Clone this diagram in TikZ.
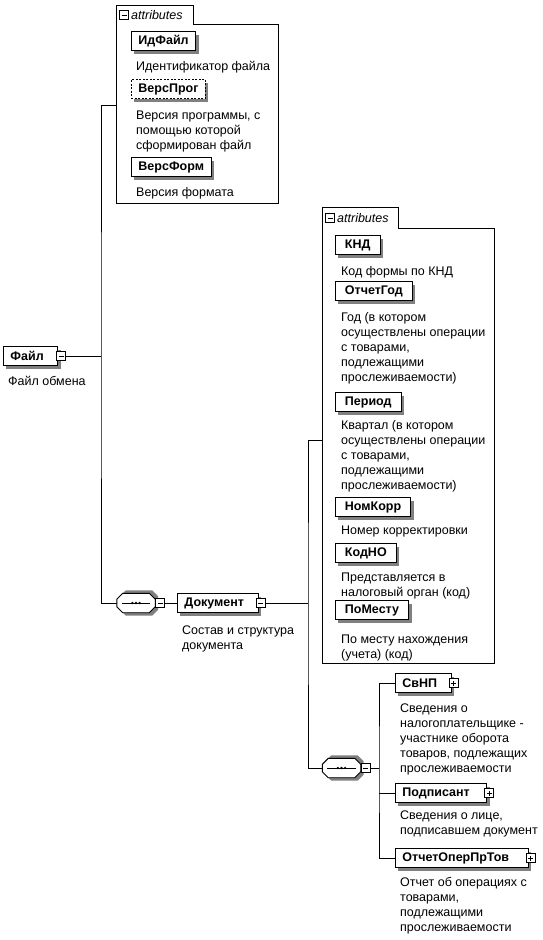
\documentclass[tikz,border=0pt]{standalone}
\usepackage{fontspec}
\setmainfont{Liberation Sans}
\begin{document}
\newcommand\seqshape[1]{%
  \fill[black!50] ([shift={(9pt,3pt)}]#1.north west) -- ([shift={(-3pt,3pt)}]#1.north east) -- ([shift={(3pt,-3pt)}]#1.north east) -- ([shift={(3pt,3pt)}]#1.south east) -- ([shift={(-3pt,-3pt)}]#1.south east) -- ([shift={(9pt,-3pt)}]#1.south west) -- ([shift={(3pt,3pt)}]#1.south west) -- ([shift={(3pt,-3pt)}]#1.north west) -- cycle;
  \draw[line width=0.9pt, fill=white] ([xshift=6pt]#1.north west) -- ([xshift=-6pt]#1.north east) -- ([yshift=-6pt]#1.north east) -- ([yshift=6pt]#1.south east) -- ([xshift=-6pt]#1.south east) -- ([xshift=6pt]#1.south west) -- ([yshift=6pt]#1.south west) -- ([yshift=-6pt]#1.north west) -- cycle;
  \draw[line width=0.8pt] ([xshift=5pt]#1.west) -- ([xshift=-5pt]#1.east);
  \fill (#1.center) circle (1.3pt) ([xshift=-3.6pt]#1.center) circle (1.3pt) ([xshift=3.6pt]#1.center) circle (1.3pt);}
\begin{tikzpicture}[x=1pt,y=-1pt,
  every node/.style={inner sep=0pt},
  conn/.style={line width=0.8pt},
  dropsh/.style={preaction={fill=black!50, transform canvas={xshift=3pt, yshift=-3pt}}},
  elem/.style={draw, fill=white, line width=0.9pt, minimum height=19pt, inner xsep=7pt, anchor=west, font=\fontsize{12.5}{14}\selectfont\bfseries, dropsh},
  wideelem/.style={elem, inner xsep=9.5pt},
  optelem/.style={elem, dash pattern=on 2pt off 1.5pt},
  desc/.style={anchor=north west, align=left, font=\fontsize{12.5}{15}\selectfont},
  togbox/.style={draw, fill=white, line width=0.6pt, minimum size=9pt},
  minusbox/.style={togbox, path picture={\draw[line width=0.6pt] ([xshift=2pt]path picture bounding box.west) -- ([xshift=-2pt]path picture bounding box.east);}},
  plusbox/.style={togbox, path picture={\draw[line width=0.6pt] ([xshift=2pt]path picture bounding box.west) -- ([xshift=-2pt]path picture bounding box.east) ([yshift=2pt]path picture bounding box.south) -- ([yshift=-2pt]path picture bounding box.north);}},
  seqn/.style={minimum width=38pt, minimum height=19pt},
  attrtab/.style={font=\fontsize{12.5}{14}\selectfont\itshape, anchor=west},
  grp/.style={line width=0.9pt}
]
\fill[white] (0,0) rectangle (543,940);
\useasboundingbox (0,0) rectangle (543,940);

% root
\node[elem] (file) at (3,356) {Файл\kern7pt};
\node[minusbox] (fm) at ([xshift=3pt]file.east) {};
\node[desc] (filed) at (8,374.5) {\strut Файл обмена};

% attributes group 1
\node[minimum width=162pt, minimum height=179pt, anchor=north west] (att1) at (116,24) {};
\node[minimum width=77pt, minimum height=18pt, anchor=south west] (tab1) at (att1.north west) {};
\draw[grp] (att1.south west) -- (tab1.north west) -- (tab1.north east) -- (tab1.south east) -- (att1.north east) -- (att1.south east) -- cycle;
\node[minusbox] (tm1) at ([xshift=8pt]tab1.west) {};
\node[attrtab] (tt1) at ([xshift=15pt]tab1.west) {attributes};

\node[elem] (idf) at (131,41) {ИдФайл};
\node[desc] (idfd) at (136,59.5) {\strut Идентификатор файла};
\node[optelem] (vprog) at (131,89) {ВерсПрог};
\node[desc] (vprogd) at (136,108.5) {\strut Версия программы, с\\помощью которой\\сформирован файл};
\node[elem] (vform) at (131,167) {ВерсФорм};
\node[desc] (vformd) at (136,185.5) {\strut Версия формата};

% sequence 1 and Документ
\node[seqn] (seq1) at (136,603) {};
\seqshape{seq1}
\node[minusbox] (sm1) at ([xshift=5pt]seq1.east) {};
\node[elem] (doc) at (177,603) {Документ\kern7pt};
\node[minusbox] (dm) at ([xshift=2pt]doc.east) {};
\node[desc] (docd) at (182,623.5) {\strut Состав и структура\\документа};

% attributes group 2
\node[minimum width=172pt, minimum height=435pt, anchor=north west] (att2) at (322,228) {};
\node[minimum width=76pt, minimum height=20pt, anchor=south west] (tab2) at (att2.north west) {};
\draw[grp] (att2.south west) -- (tab2.north west) -- (tab2.north east) -- (tab2.south east) -- (att2.north east) -- (att2.south east) -- cycle;
\node[minusbox] (tm2) at ([xshift=8pt]tab2.west) {};
\node[attrtab] (tt2) at ([xshift=15pt]tab2.west) {attributes};

\node[wideelem] (knd) at (335,245) {КНД};
\node[desc] (kndd) at (341,264.5) {\strut Код формы по КНД};
\node[wideelem] (ogod) at (335,291) {ОтчетГод};
\node[desc] (ogodd) at (341,310.5) {\strut Год (в котором\\осуществлены операции\\с товарами,\\подлежащими\\прослеживаемости)};
\node[wideelem] (per) at (335,402) {Период};
\node[desc] (perd) at (341,418.5) {\strut Квартал (в котором\\осуществлены операции\\с товарами,\\подлежащими\\прослеживаемости)};
\node[wideelem] (nkorr) at (335,507) {НомКорр};
\node[desc] (nkorrd) at (341,523.5) {\strut Номер корректировки};
\node[wideelem] (kno) at (335,553) {КодНО};
\node[desc] (knod) at (341,570.5) {\strut Представляется в\\налоговый орган (код)};
\node[wideelem] (pom) at (335,610) {ПоМесту};
\node[desc] (pomd) at (341,632.5) {\strut По месту нахождения\\(учета) (код)};

% sequence 2 and children
\node[seqn] (seq2) at (341.5,768) {};
\seqshape{seq2}
\node[minusbox] (sm2) at ([xshift=5pt]seq2.east) {};

\node[elem] (svnp) at (395,683) {СвНП\kern7pt};
\node[plusbox] (svnpp) at ([xshift=2pt]svnp.east) {};
\node[desc] (svnpd) at (400,701.5) {\strut Сведения о\\налогоплательщике -\\участнике оборота\\товаров, подлежащих\\прослеживаемости};
\node[elem] (podp) at (395,793) {Подписант\kern10pt};
\node[plusbox] (podpp) at ([xshift=2pt]podp.east) {};
\node[desc] (podpd) at (400,808.5) {\strut Сведения о лице,\\подписавшем документ};
\node[elem] (otch) at (395,858) {ОтчетОперПрТов\kern12pt};
\node[plusbox] (otchp) at ([xshift=2pt]otch.east) {};
\node[desc] (otchd) at (400,875.5) {\strut Отчет об операциях с\\товарами,\\подлежащими\\прослеживаемости};

% connectors
\coordinate (j1) at (101,356);
\coordinate (a1) at (116,105);
\draw[conn] (fm.east) -- (j1);
\draw[conn] (a1) -| (j1) |- (seq1.west);
\draw[conn] (sm1.east) -- (doc.west);
\coordinate (j2) at (308,603);
\coordinate (a2) at (322,440);
\draw[conn] (dm.east) -- (j2);
\draw[conn] (a2) -| (j2) |- (seq2.west);
\coordinate (j3) at (379,768);
\draw[conn] (sm2.east) -- (j3);
\draw[conn] (svnp.west) -| (j3) |- (otch.west);
\draw[conn] (podp.west) -- (podp.west -| j3);
\end{tikzpicture}
\end{document}
